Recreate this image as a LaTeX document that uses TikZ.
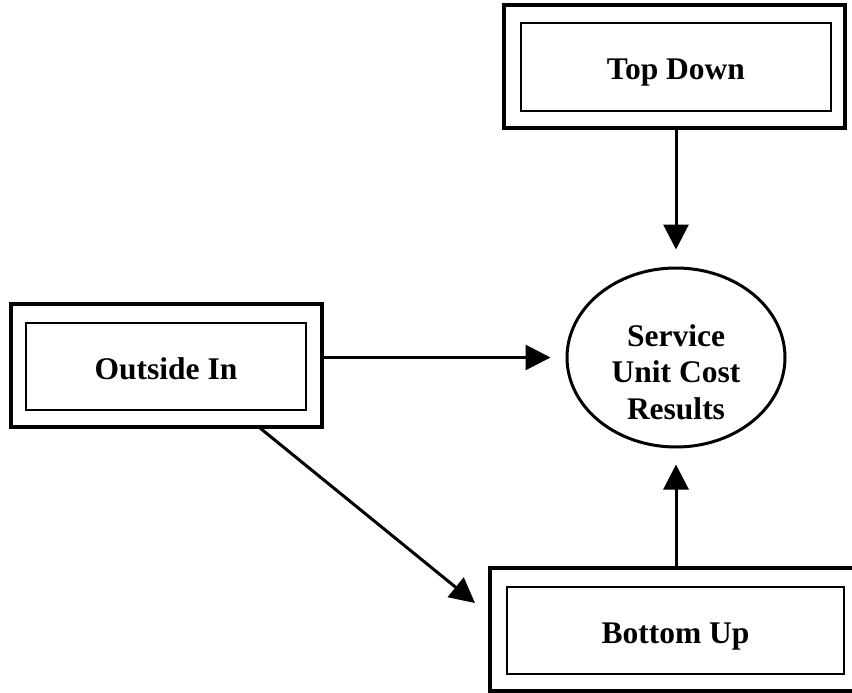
\documentclass[tikz,border=0pt]{standalone}
\usepackage{fontspec}
\setmainfont{Liberation Serif}
\usetikzlibrary{arrows.meta,shapes.geometric}
\begin{document}
\begin{tikzpicture}[x=1pt,y=-1pt,
  outerbox/.style={draw,line width=4pt,rectangle,inner sep=0pt},
  innerbox/.style={draw,line width=1.6pt,rectangle,inner sep=0pt,
    text height=26pt,text depth=0pt,
    font=\fontsize{31.5}{36}\selectfont\bfseries},
  ellbox/.style={draw,line width=3pt,ellipse,inner sep=0pt,
    minimum width=218pt,minimum height=179pt},
  elltext/.style={align=center,inner sep=0pt,
    font=\fontsize{31.5}{36.5}\selectfont\bfseries},
  conn/.style={line width=3pt,-{Triangle[length=25pt,width=25pt]}}]
\useasboundingbox (0,0) rectangle (852,693);
\clip (0,0) rectangle (852,693);
% Top Down
\node[outerbox,minimum width=341pt,minimum height=123pt] (td) at (674.5,66.5) {};
\node[innerbox,minimum width=310pt,minimum height=88pt] (tdi) at (676,67) {Top Down};
% Outside In
\node[outerbox,minimum width=311pt,minimum height=123pt] (oi) at (166.5,365.5) {};
\node[innerbox,minimum width=280pt,minimum height=87pt] (oii) at (166,366.5) {Outside In};
% Bottom Up
\node[outerbox,minimum width=368pt,minimum height=123pt] (bu) at (674,629.5) {};
\node[innerbox,minimum width=337pt,minimum height=87pt] (bui) at (675.5,630.5) {Bottom Up};
% Ellipse
\node[ellbox] (ell) at (676,357.5) {};
\node[elltext] (ellt) at (676,372) {Service\\Unit Cost\\Results};
% connectors
\coordinate (dS) at (260,428);
\coordinate (dE) at (475,603);
\draw[conn,shorten >=17pt] (td.south -| ell.north) -- (ell.north);
\draw[conn,shorten >=15pt] (oi.east |- ell.west) -- (ell.west);
\draw[conn,shorten >=16pt] (bu.north -| ell.south) -- (ell.south);
\draw[conn] (dS) -- (dE);
\end{tikzpicture}
\end{document}
